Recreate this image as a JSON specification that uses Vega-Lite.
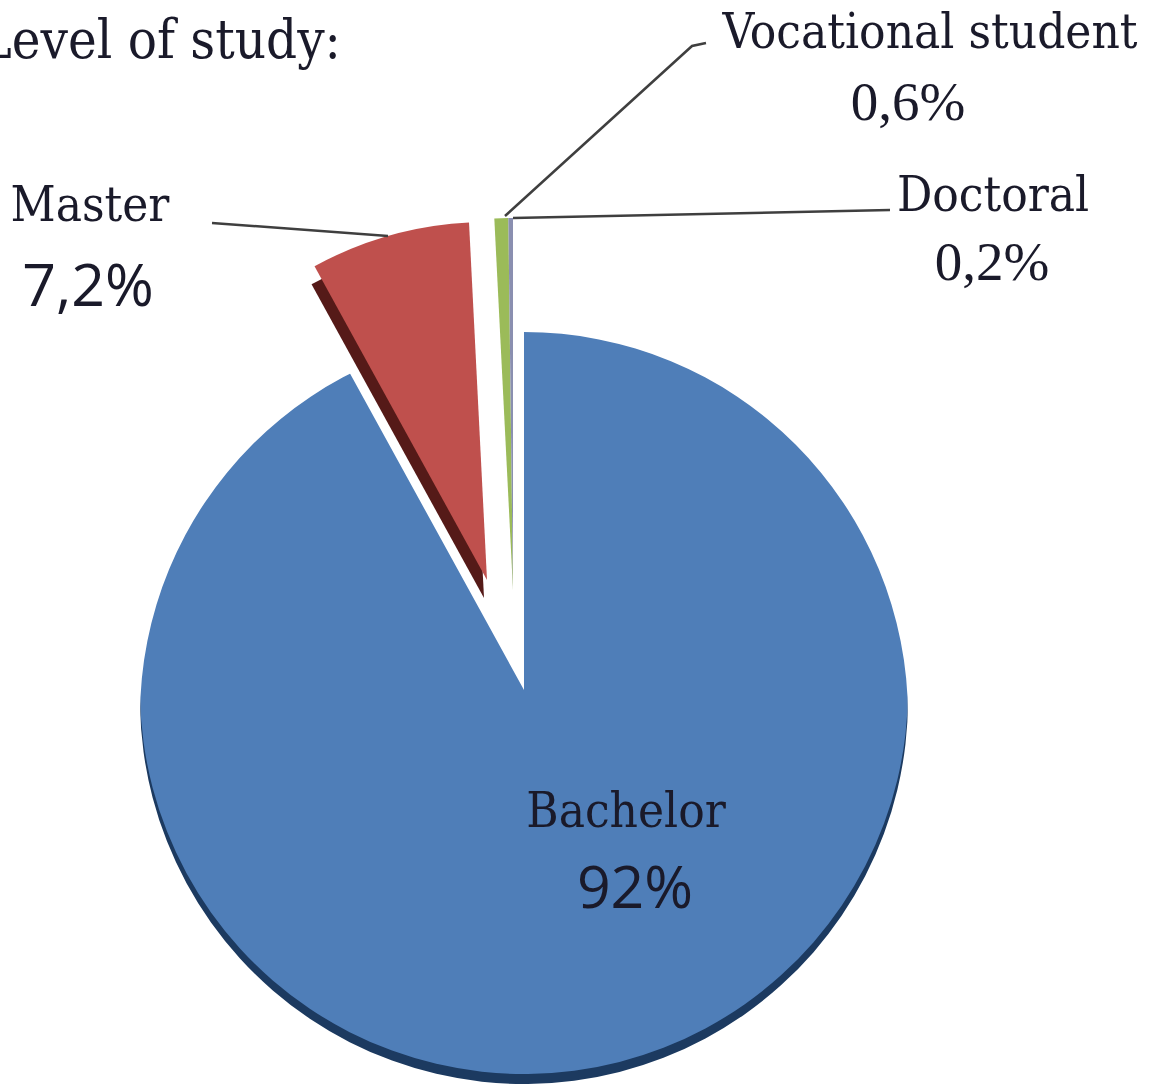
{
"$schema":"https://vega.github.io/schema/vega-lite/v6.json",
"width":1152,"height":1089,"padding":0,"autosize":{"type":"none"},
"background":"#ffffff",
"config":{"view":{"stroke":null}},
"datasets":{
"shares":[
{"level":"Bachelor","share":92,"rank":1},
{"level":"Master","share":7.2,"rank":2},
{"level":"Vocational student","share":0.6,"rank":3},
{"level":"Doctoral","share":0.2,"rank":4}],
"leaders":[
{"leader":"Master","seq":1,"across":212,"down":223},
{"leader":"Master","seq":2,"across":388,"down":236},
{"leader":"Vocational student","seq":1,"across":505,"down":216},
{"leader":"Vocational student","seq":2,"across":692,"down":46},
{"leader":"Vocational student","seq":3,"across":706,"down":43},
{"leader":"Doctoral","seq":1,"across":513,"down":218},
{"leader":"Doctoral","seq":2,"across":890,"down":210}],
"serifLabels":[
{"label":"Vocational student","across":930,"down":48},
{"label":"Doctoral","across":993,"down":211},
{"label":"Master","across":90,"down":221},
{"label":"Bachelor","across":626,"down":827}],
"serifPercents":[
{"label":"0,6%","across":908,"down":120},
{"label":"0,2%","across":992,"down":280}],
"sansLabels":[
{"label":"7,2%","across":88,"down":306},
{"label":"92%","across":635,"down":908}],
"heading":[{"label":"Level of study:","across":341,"down":58}]
},
"layer":[
{"data":{"name":"shares"},
 "transform":[{"stack":"share","sort":[{"field":"rank","order":"ascending"}],"as":["s0","s1"]},{"filter":"datum.level==='Bachelor'"}],
 "layer":[
  {"mark":{"type":"arc","outerRadius":384,"xOffset":-52,"yOffset":155.5,"fill":"#1c3a60"},
   "encoding":{"theta":{"field":"s0","type":"quantitative","scale":{"domain":[0,100]}},"theta2":{"field":"s1"}}},
  {"mark":{"type":"arc","outerRadius":384,"xOffset":-52,"yOffset":145.5,"fill":"#4f7eb8"},
   "encoding":{"theta":{"field":"s0","type":"quantitative","scale":{"domain":[0,100]}},"theta2":{"field":"s1"}}},
  {"mark":{"type":"arc","theta":-1.5708,"theta2":1.5708,"innerRadius":384,"outerRadius":470,"xOffset":-52,"yOffset":171.5,"fill":"#ffffff"},"encoding":{}}
 ]},
{"data":{"name":"shares"},
 "transform":[{"stack":"share","sort":[{"field":"rank","order":"ascending"}],"as":["s0","s1"]},{"filter":"datum.level==='Master'"}],
 "layer":[
  {"mark":{"type":"arc","outerRadius":358,"xOffset":-92,"yOffset":53.5,"fill":"#551a18"},
   "encoding":{"theta":{"field":"s0","type":"quantitative","scale":{"domain":[0,100]}},"theta2":{"field":"s1"}}},
  {"mark":{"type":"arc","outerRadius":358,"xOffset":-89,"yOffset":35.5,"fill":"#bf504d"},
   "encoding":{"theta":{"field":"s0","type":"quantitative","scale":{"domain":[0,100]}},"theta2":{"field":"s1"}}}
 ]},
{"data":{"name":"shares"},
 "transform":[{"stack":"share","sort":[{"field":"rank","order":"ascending"}],"as":["s0","s1"]},{"filter":"datum.level==='Vocational student' || datum.level==='Doctoral'"}],
 "mark":{"type":"arc","outerRadius":372,"xOffset":-63,"yOffset":45.5},
 "encoding":{"theta":{"field":"s0","type":"quantitative","scale":{"domain":[0,100]}},"theta2":{"field":"s1"},
  "color":{"field":"level","type":"nominal","legend":null,"scale":{"domain":["Vocational student","Doctoral"],"range":["#9bbb59","#8a8fb0"]}}}},
{"data":{"name":"leaders"},
 "mark":{"type":"line","color":"#3f3f3f","strokeWidth":2.5,"clip":false},
 "encoding":{"x":{"field":"across","type":"quantitative","axis":null,"scale":{"domain":[0,1152],"nice":false,"zero":false}},
  "y":{"field":"down","type":"quantitative","axis":null,"scale":{"domain":[1089,0],"nice":false,"zero":false}},
  "detail":{"field":"leader"},"order":{"field":"seq"}}},
{"data":{"name":"serifLabels"},
 "mark":{"type":"text","font":"DejaVu Serif Condensed","fontSize":49,"color":"#1a1a2a","align":"center","baseline":"alphabetic"},
 "encoding":{"x":{"field":"across","type":"quantitative","axis":null,"scale":{"domain":[0,1152],"nice":false,"zero":false}},
  "y":{"field":"down","type":"quantitative","axis":null,"scale":{"domain":[1089,0],"nice":false,"zero":false}},
  "text":{"field":"label"}}},
{"data":{"name":"serifPercents"},
 "mark":{"type":"text","font":"Liberation Serif","fontSize":55,"color":"#1a1a2a","align":"center","baseline":"alphabetic"},
 "encoding":{"x":{"field":"across","type":"quantitative","axis":null,"scale":{"domain":[0,1152],"nice":false,"zero":false}},
  "y":{"field":"down","type":"quantitative","axis":null,"scale":{"domain":[1089,0],"nice":false,"zero":false}},
  "text":{"field":"label"}}},
{"data":{"name":"sansLabels"},
 "mark":{"type":"text","font":"Open Sans","fontSize":59,"color":"#1a1a2a","align":"center","baseline":"alphabetic"},
 "encoding":{"x":{"field":"across","type":"quantitative","axis":null,"scale":{"domain":[0,1152],"nice":false,"zero":false}},
  "y":{"field":"down","type":"quantitative","axis":null,"scale":{"domain":[1089,0],"nice":false,"zero":false}},
  "text":{"field":"label"}}},
{"data":{"name":"heading"},
 "mark":{"type":"text","font":"DejaVu Serif Condensed","fontSize":54,"color":"#1a1a2a","align":"right","baseline":"alphabetic"},
 "encoding":{"x":{"field":"across","type":"quantitative","axis":null,"scale":{"domain":[0,1152],"nice":false,"zero":false}},
  "y":{"field":"down","type":"quantitative","axis":null,"scale":{"domain":[1089,0],"nice":false,"zero":false}},
  "text":{"field":"label"}}}
]
}
